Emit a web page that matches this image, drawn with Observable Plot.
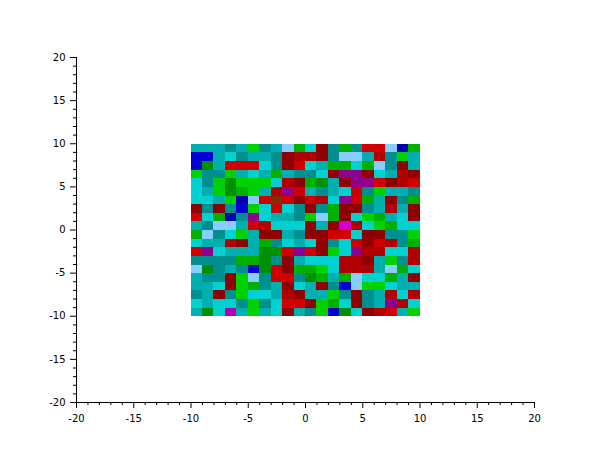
<!DOCTYPE html>
<html>
<head>
<meta charset="utf-8">
<script src="https://cdn.jsdelivr.net/npm/d3@7"></script>
<script src="https://cdn.jsdelivr.net/npm/@observablehq/plot@0.6"></script>
<style>
html,body{margin:0;padding:0;background:#fff}
svg{display:block}
</style>
</head>
<body>
<div id="chart"></div>
<script>
// Colour indices of the classic Scilab colormap
const colorCodes = ["B9","B","S","k","g","G","a","b","c","d","r","R","P","p","q","n"];
const colorHex = ["#0000b0","#0000d1","#87ceff","#008f00","#00b000","#00d100","#008f8f","#00b0b0","#00d1d1","#8f0000","#b00000","#d10000","#8f008f","#b000b0","#d100d1","#803000"];

const row00 = "b b b a b G a b S g c d a g a R R S B9 g".split(" ");
const row01 = "B B b c a b b a d r r d a S S b r a G b".split(" ");
const row02 = "B k b R R R c a d R c b g g c g S a d b".split(" ");
const row03 = "G a a G b c b g b a a c d P P d c b r d".split(" ");
const row04 = "c a G k G G G c r d g k b d P P R d r R".split(" ");
const row05 = "c b G k g G b r P R b a b c R a G b b a".split(" ");
const row06 = "c c b G B9 S R n R d R r c P R g b d a g".split(" ");
const row07 = "d a d a B G c R c a d a g d d a b r b d".split(" ");
const row08 = "R c g B9 a P c b b a G S g d c G g b c d".split(" ");
const row09 = "b a S S b R r c c c d b d q r c G g c c".split(" ");
const row10 = "g S a c G b d d b a d d R R c d d a a G".split(" ");
const row11 = "c b b r d b g a c b c d a c R d R r a g".split(" ");
const row12 = "R P c b b b k k R P R d G c P r r c c r".split(" ");
const row13 = "a a a a g g k a d b c c c r r d b G a r".split(" ");
const row14 = "S k a b a B k R d g g G c r r r b S g c".split(" ");
const row15 = "b a a d G S a R R a k g b g S c c g b d".split(" ");
const row16 = "b b c d G g a b d c b d a B S G G c b b".split(" ");
const row17 = "a b d a G c c b r d b b G a d a b r c r".split(" ");
const row18 = "c b c c a G a c R R d G g c d a b P r c".split(" ");
const row19 = "b k c p b G b c d b a G B k c d r R b G".split(" ");
const rows = [row00,row01,row02,row03,row04,row05,row06,row07,row08,row09,row10,row11,row12,row13,row14,row15,row16,row17,row18,row19];

const majorTicks = [-20,-15,-10,-5,0,5,10,15,20];
const minorTicks = d3.range(-20,21).filter(d => !majorTicks.includes(d));
const gridLow = -10;

const cells = rows.flatMap((row, r) => row.map((code, c) => ({
  x1: gridLow + c, x2: gridLow + c + 1,
  y2: -gridLow - r, y1: -gridLow - r - 1,
  code
})));

const chart = Plot.plot({
  width: 610,
  height: 460,
  marginLeft: 76,
  marginRight: 76,
  marginTop: 57,
  marginBottom: 58,
  style: {fontFamily: "DejaVu Sans", fontSize: "10px", color: "#000", background: "#fff", overflow: "visible"},
  x: {domain: [-20,20], label: null},
  y: {domain: [-20,20], label: null},
  color: {type: "ordinal", domain: colorCodes, range: colorHex},
  marks: [
    Plot.rect(cells, {x1:"x1", x2:"x2", y1:"y1", y2:"y2", fill:"code", dy:0.5, shapeRendering:"crispEdges"}),
    Plot.ruleX([-20], {stroke:"#000", strokeWidth:1}),
    Plot.ruleY([-20], {stroke:"#000", strokeWidth:1}),
    Plot.axisX({ticks: minorTicks, tickSize: 3, tickFormat: () => "", label: null}),
    Plot.axisY({ticks: minorTicks, tickSize: 3, tickFormat: () => "", label: null}),
    Plot.axisX({ticks: majorTicks, tickSize: 6, tickPadding: 6, tickFormat: d => String(d), label: null}),
    Plot.axisY({ticks: majorTicks, tickSize: 6, tickPadding: 5, tickFormat: d => String(d), label: null})
  ]
});
document.getElementById("chart").appendChild(chart);
</script>
</body>
</html>
